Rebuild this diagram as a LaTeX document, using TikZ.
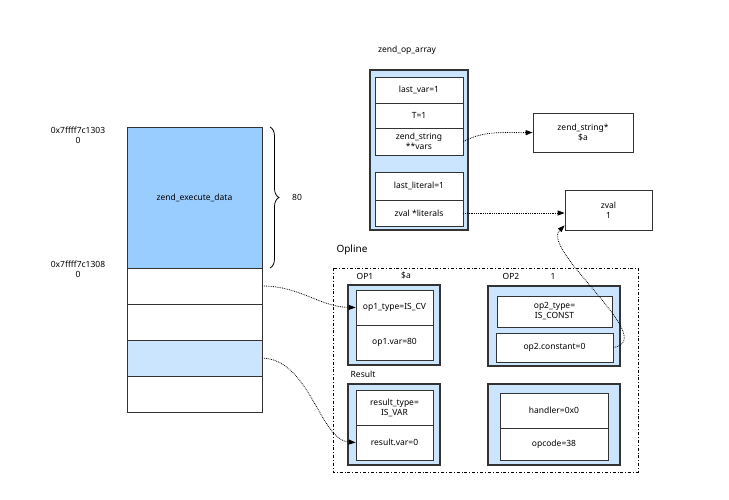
\documentclass[tikz,border=0pt]{standalone}
\usepackage{fontspec}
\setmainfont{Noto Sans}
\usetikzlibrary{positioning,arrows.meta,decorations.pathreplacing}
\definecolor{cellblue}{RGB}{204,229,255}
\definecolor{datablue}{RGB}{153,204,255}
\tikzset{
  cell/.style={draw=black!80,thick,fill=white,minimum width=#1,inner sep=0pt,align=center,font=\fontsize{8.5}{10}\selectfont},
  frame/.style={draw=black!80,very thick,fill=cellblue},
  lbl/.style={font=\fontsize{8.5}{10}\selectfont,align=center,inner sep=0pt},
  blbl/.style={font=\bfseries\fontsize{8.5}{10}\selectfont,inner sep=0pt},
  link/.style={densely dotted,thick,-{Triangle[length=7pt,width=5pt]}}
}
\begin{document}
\begin{tikzpicture}[x=1pt,y=-1pt]
\useasboundingbox (0,0) rectangle (729,500);
% stack
\node[cell=135pt,minimum height=141pt,fill=datablue] (data) at (194.5,197.5) {zend\_execute\_data};
\node[cell=135pt,minimum height=36pt] (s1) at (194.5,286) {};
\node[cell=135pt,minimum height=36pt] (s2) at (194.5,322) {};
\node[cell=135pt,minimum height=36pt,fill=cellblue] (s3) at (194.5,358) {};
\node[cell=135pt,minimum height=36pt] (s4) at (194.5,394) {};
\node[lbl] (addr1) at (78,135) {0x7ffff7c1303\\0};
\node[lbl] (addr2) at (78,269) {0x7ffff7c1308\\0};
\draw[thick,decorate,decoration={brace,amplitude=9pt}] (270,127) -- (270,268);
\node[lbl] (size) at (297,197) {80};
% op array
\node[lbl] (oplabel) at (407,50) {zend\_op\_array};
\draw[frame] (370,70) rectangle (468,230);
\node[cell=88pt,minimum height=26pt] (lastvar) at (419,90) {last\_var=1};
\node[cell=88pt,minimum height=25pt] (tcount) at (419,115.5) {T=1};
\node[cell=88pt,minimum height=27pt] (vars) at (419,141.5) {zend\_string\\**vars};
\node[cell=88pt,minimum height=28pt] (lastlit) at (419,186) {last\_literal=1};
\node[cell=88pt,minimum height=26pt] (lits) at (419,213) {zval *literals};
\node[cell=100pt,minimum height=39pt] (zstr) at (583,132.5) {zend\_string*\\\$a};
\node[cell=87pt,minimum height=40pt] (zval) at (608.5,210) {zval\\1};
% opline
\node[font=\bfseries\fontsize{10}{12}\selectfont,inner sep=0pt] (opline) at (352,250) {Opline};
\draw[thick,dash dot] (333,268) rectangle (638,472);
\node[blbl] (op1lbl) at (365,276) {OP1};
\node[lbl] (op1val) at (406,276) {\$a};
\node[blbl] (op2lbl) at (511,276) {OP2};
\node[lbl] (op2val) at (553,276) {1};
\node[blbl] (reslbl) at (363,374) {Result};
\draw[frame] (348,285) rectangle (440,365);
\draw[frame] (488,286) rectangle (620,366);
\draw[frame] (348,384) rectangle (440,465);
\draw[frame] (488,384) rectangle (620,465);
\node[cell=77pt,minimum height=35pt] (op1type) at (394.5,307.5) {op1\_type=IS\_CV};
\node[cell=77pt,minimum height=35pt] (op1var) at (394.5,342.5) {op1.var=80};
\node[cell=115pt,minimum height=31pt] (op2type) at (554.5,311.5) {op2\_type=\\IS\_CONST};
\node[cell=117pt,minimum height=29pt] (op2const) at (554.5,347.5) {op2.constant=0};
\node[cell=77pt,minimum height=35pt] (restype) at (394.5,407.5) {result\_type=\\IS\_VAR};
\node[cell=77pt,minimum height=35pt] (resvar) at (394.5,442.5) {result.var=0};
\node[cell=108pt,minimum height=35pt] (handler) at (554,410.5) {handler=0x0};
\node[cell=108pt,minimum height=32pt] (opcode) at (554,444) {opcode=38};
% links
\draw[link] (s1.east) .. controls (300,286) and (320,307) .. (op1type.west);
\draw[link] (s3.east) .. controls (310,360) and (320,440) .. (resvar.west);
\draw[link] (vars.east) .. controls (485,130) and (505,133) .. (zstr.west);
\draw[link] (lits.east) -- (lits.east -| zval.west);
\draw[link] (op2const.east) .. controls (660,340) and (540,250) .. ([yshift=5pt]zval.south west);
\end{tikzpicture}
\end{document}
